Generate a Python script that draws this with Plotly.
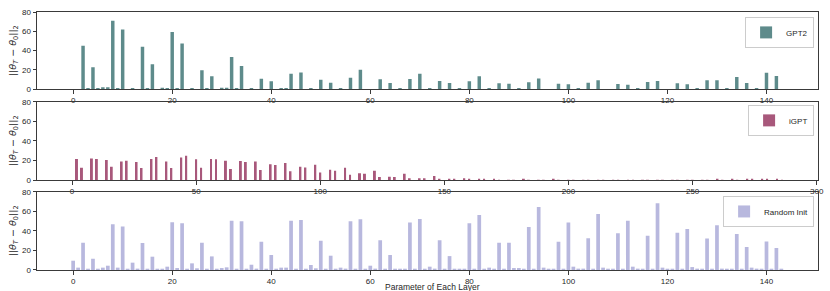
import plotly.graph_objects as go

# ---------------- data ----------------
gpt2_vals = [
    0.3, 0.3, 45.0, 1.0, 22.7, 0.5, 2.0, 2.0, 71.0, 0.8, 62.0, 0.3,
    0.4, 0.2, 44.0, 0.6, 25.8, 0.3, 1.7, 0.5, 59.4, 0.8, 47.4, 0.2,
    0.4, 0.2, 19.6, 0.4, 13.4, 0.2, 1.7, 1.7, 33.3, 0.6, 24.0, 0.2,
    0.4, 0.2, 11.0, 0.2, 8.2, 0.2, 1.0, 1.0, 16.0, 0.2, 17.5, 0.2,
    0.4, 0.2, 10.0, 0.2, 6.9, 0.2, 1.0, 0.3, 12.0, 0.2, 20.3, 0.2,
    0.3, 0.2, 10.3, 0.2, 6.5, 0.2, 1.0, 0.3, 10.6, 0.2, 16.0, 0.2,
    0.4, 0.2, 8.6, 0.2, 6.5, 0.2, 1.0, 0.3, 8.2, 0.2, 13.4, 0.2,
    0.4, 0.2, 6.2, 0.2, 5.8, 0.2, 0.6, 0.3, 7.2, 0.2, 11.3, 0.2,
    0.3, 0.2, 5.8, 0.2, 5.2, 0.2, 0.6, 0.3, 6.9, 0.2, 9.3, 0.2,
    0.3, 0.2, 5.5, 0.2, 4.8, 0.2, 0.6, 0.3, 7.6, 0.2, 8.6, 0.2,
    0.3, 0.2, 6.2, 0.2, 5.2, 0.2, 0.6, 0.3, 9.3, 0.2, 9.3, 0.2,
    0.6, 0.3, 12.7, 0.2, 6.5, 0.2, 0.6, 0.3, 17.2, 0.2, 13.7, 0.2,
]

igpt_vals = [
    0, 0, 21.4, 0, 12.6, 0, 0, 0, 22.0, 0, 21.4, 0,
    0, 0, 20.4, 0, 13.6, 0, 0, 0, 19.0, 0, 19.7, 0,
    0, 0, 18.4, 0, 12.3, 0, 0, 0, 21.4, 0, 23.5, 0,
    0, 0, 19.0, 0, 12.3, 0, 0, 0, 23.1, 0, 24.9, 0,
    0, 0, 21.1, 0, 12.6, 0, 0, 0, 21.4, 0, 21.1, 0,
    0, 0, 19.7, 0, 11.2, 0, 0, 0, 19.4, 0, 18.4, 0,
    0, 0, 19.0, 0, 10.2, 0, 0, 0, 16.0, 0, 15.3, 0,
    0, 0, 17.4, 0, 8.9, 0, 0, 0, 13.6, 0, 12.9, 0,
    0, 0, 15.7, 0, 7.8, 0, 0, 0, 10.6, 0, 9.5, 0,
    0, 0, 12.6, 0, 5.4, 0, 0, 0, 6.8, 0, 6.5, 0,
    0, 0, 9.5, 0, 3.1, 0, 0, 0, 3.4, 0, 3.1, 0,
    0, 0, 6.5, 0, 1.7, 0, 0, 0, 1.7, 0, 1.7, 0,
    0, 0, 4.1, 0, 1.0, 0, 0, 0, 0.7, 0, 0.7, 0,
    0, 0, 1.7, 0, 0.5, 0, 0, 0, 0.4, 0, 0.4, 0,
    0, 0, 0.5, 0, 0.3, 0, 0, 0, 0.3, 0, 0.3, 0,
    0, 0, 0.4, 0, 0.3, 0, 0, 0, 0.3, 0, 0.3, 0,
    0, 0, 0.4, 0, 0.3, 0, 0, 0, 0.3, 0, 0.3, 0,
    0, 0, 0.3, 0, 0.3, 0, 0, 0, 0.3, 0, 0.3, 0,
    0, 0, 0.3, 0, 0.3, 0, 0, 0, 0.3, 0, 0.3, 0,
    0, 0, 0.3, 0, 0.3, 0, 0, 0, 0.3, 0, 0.3, 0,
    0, 0, 0.3, 0, 0.3, 0, 0, 0, 0.3, 0, 0.3, 0,
    0, 0, 0.3, 0, 0.2, 0, 0, 0, 0.5, 0, 0.3, 0,
    0, 0, 0.6, 0, 0.3, 0, 0, 0, 0.8, 0, 0.5, 0,
    0, 0, 0.9, 0, 0.4, 0, 0, 0, 0.6, 0, 0.3, 0,
]

random_vals = [
    9.5, 2.4, 27.8, 1.0, 11.5, 1.0, 2.4, 4.4, 46.8, 2.4, 44.4, 0.5,
    7.5, 1.4, 27.5, 0.5, 13.6, 1.0, 1.0, 3.4, 48.8, 2.0, 47.8, 0.5,
    6.8, 1.7, 27.8, 0.5, 13.9, 0.5, 2.0, 2.7, 50.2, 1.0, 49.8, 0.5,
    5.4, 1.4, 28.8, 0.5, 15.3, 0.7, 2.4, 2.4, 50.2, 1.0, 51.2, 0.5,
    5.1, 1.7, 29.8, 0.5, 14.6, 0.5, 2.4, 1.4, 49.8, 1.0, 51.9, 0.5,
    4.4, 1.4, 30.5, 0.5, 15.3, 0.5, 0.7, 0.7, 48.5, 1.0, 52.2, 0.5,
    3.4, 1.4, 30.5, 0.5, 14.2, 0.5, 0.7, 0.7, 47.8, 1.0, 56.3, 0.5,
    2.4, 0.5, 27.8, 0.5, 27.8, 2.0, 2.0, 0.5, 44.0, 1.0, 64.4, 2.4,
    0.5, 0.5, 28.8, 0.5, 48.5, 3.4, 1.4, 1.4, 32.5, 0.5, 57.3, 2.4,
    0.5, 0.5, 37.6, 0.5, 50.2, 3.4, 1.4, 0.5, 34.9, 0.5, 68.1, 2.4,
    0.5, 0.5, 38.0, 0.5, 42.0, 3.0, 1.4, 0.5, 32.2, 0.5, 45.8, 1.4,
    0.5, 0.5, 36.9, 0.5, 23.4, 2.4, 1.4, 0.5, 29.2, 0.5, 22.4, 0.5,
]

series_names = ["GPT2", "iGPT", "Random Init"]
series_colors = ["#5e8b8b", "#a8587b", "#b8b8de"]
ticks_short = [0, 20, 40, 60, 80, 100, 120, 140]
ticks_long = [0, 50, 100, 150, 200, 250, 300]
y_ticks = [0, 20, 40, 60, 80]
x_title = "Parameter of Each Layer"

# ---------------- figure ----------------
fig = go.Figure()
all_vals = [gpt2_vals, igpt_vals, random_vals]
widths = [0.7, 0.8, 0.75]
legend_ids = ["legend", "legend2", "legend3"]
for i, (vals, name, col) in enumerate(zip(all_vals, series_names, series_colors)):
    suffix = "" if i == 0 else str(i + 1)
    fig.add_trace(go.Bar(
        x=list(range(len(vals))), y=vals, name=name,
        width=widths[i],
        marker=dict(color=col, line=dict(width=0)),
        xaxis="x" + suffix, yaxis="y" + suffix,
        legend=legend_ids[i], showlegend=True,
    ))

TXT = "#262626"
LINE = "#3a3a3a"
FONT = "Liberation Sans, Arial"
TICK = 8
ytitle = "||<i>θ</i><sub><i>T</i></sub> − <i>θ</i><sub>0</sub>||<sub>2</sub>"

def xax(ticks, rng):
    return dict(range=rng, tickvals=ticks, ticks="outside", ticklen=3.5, tickwidth=0.8,
                tickcolor=LINE, showline=True, linecolor=LINE, linewidth=1, mirror=True,
                showgrid=False, zeroline=False, automargin=False,
                tickfont=dict(size=TICK, color=TXT, family=FONT))

def yax(dom):
    return dict(domain=dom, range=[0, 80], tickvals=y_ticks, ticks="outside", ticklen=3.5,
                tickwidth=0.8, tickcolor=LINE, showline=True, linecolor=LINE, linewidth=1,
                mirror=True, showgrid=False, zeroline=False, automargin=False,
                tickfont=dict(size=TICK, color=TXT, family=FONT),
                title=dict(text=ytitle, standoff=3,
                           font=dict(size=9.5, color=TXT, family="DejaVu Sans")))

short_rng = [-7.3, 150.4]
long_rng = [-14.1, 300.5]

legend_style = dict(xanchor="right", yanchor="top", bgcolor="rgba(255,255,255,0.9)",
                    bordercolor="#cccccc", borderwidth=1,
                    font=dict(size=8, color=TXT, family=FONT),
                    itemwidth=30, tracegroupgap=0)

fig.update_layout(
    width=830, height=291,
    margin=dict(l=37, r=12, t=12, b=21),
    paper_bgcolor="white", plot_bgcolor="white",
    barmode="overlay",
    xaxis=dict(anchor="y", domain=[0, 1], **xax(ticks_short, short_rng)),
    yaxis=dict(anchor="x", **yax([0.7004, 1.0])),
    xaxis2=dict(anchor="y2", domain=[0, 1], **xax(ticks_long, long_rng)),
    yaxis2=dict(anchor="x2", **yax([0.3488, 0.6523])),
    xaxis3=dict(anchor="y3", domain=[0, 1], **xax(ticks_short, short_rng)),
    yaxis3=dict(anchor="x3", **yax([0.0, 0.3035])),
    legend=dict(x=0.995, y=0.981, **legend_style),
    legend2=dict(x=0.995, y=0.640, **legend_style),
    legend3=dict(x=0.995, y=0.287, **legend_style),
    annotations=[dict(text=x_title, xref="paper", yref="paper", x=0.506, y=-0.064,
                      xanchor="center", yanchor="middle", showarrow=False,
                      font=dict(size=8.5, color=TXT, family=FONT))],
)

fig.write_html(
    "out.html",
    config={"displayModeBar": False},
    post_script="document.body.style.margin='0';document.body.style.overflow='hidden';",
)
